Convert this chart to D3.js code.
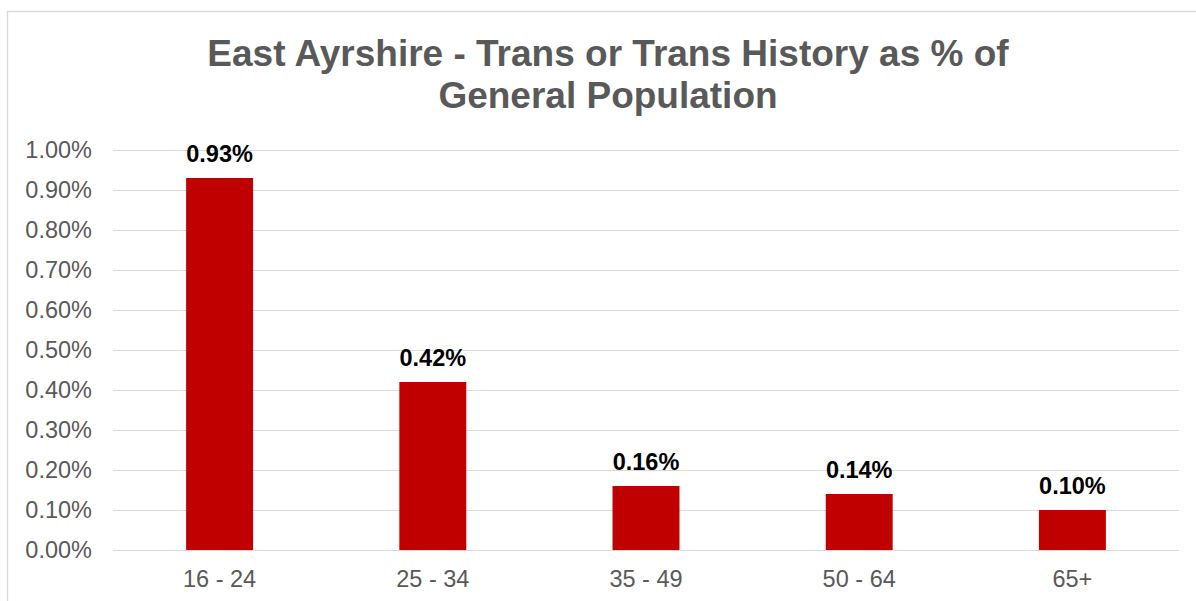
<!DOCTYPE html>
<html>
<head>
<meta charset="utf-8">
<title>East Ayrshire - Trans or Trans History</title>
<script src="https://cdn.jsdelivr.net/npm/d3@7"></script>
<style>
body { margin: 0; background: #fff; }
svg { display: block; font-family: Arial, "Liberation Sans", sans-serif; }
.grid line { stroke: #d9d9d9; stroke-width: 1.3; shape-rendering: crispEdges; }
.tick text { fill: #595959; font-size: 23.5px; }
</style>
</head>
<body>
<script>
// data
var ageGroups = ["16 - 24", "25 - 34", "35 - 49", "50 - 64", "65+"];
var transPct = [0.93, 0.42, 0.16, 0.14, 0.10];
var yTicks = [0, 0.1, 0.2, 0.3, 0.4, 0.5, 0.6, 0.7, 0.8, 0.9, 1.0];
var titleLines = ["East Ayrshire - Trans or Trans History as % of", "General Population"];

var W = 1196, H = 601;
var plot = {left: 113, right: 1179, top: 150, bottom: 550};

var svg = d3.select("body").append("svg")
    .attr("width", W)
    .attr("height", H);

// chart area border (runs off the right and bottom edges)
svg.append("rect")
    .attr("x", 7.5).attr("y", 11.5)
    .attr("width", 1202).attr("height", 620)
    .attr("fill", "#fff")
    .attr("stroke", "#d9d9d9")
    .attr("stroke-width", 1.3);

svg.append("text")
    .attr("text-anchor", "middle")
    .attr("fill", "#595959")
    .style("font-size", "37px")
    .style("font-weight", "bold")
  .selectAll("tspan")
    .data(titleLines)
  .enter().append("tspan")
    .attr("x", 608)
    .attr("y", function(d, i) { return 66 + i * 42; })
    .text(function(d) { return d; });

var x = d3.scaleBand()
    .domain(ageGroups)
    .range([plot.left, plot.right])
    .paddingInner(0.686)
    .paddingOuter(0.343);

var y = d3.scaleLinear()
    .domain([0, 1.0])
    .range([plot.bottom, plot.top]);

// gridlines + y labels
var yAxis = svg.append("g")
    .attr("class", "grid")
    .attr("transform", "translate(" + plot.left + ",0)")
    .call(d3.axisLeft(y)
      .tickValues(yTicks)
      .tickSize(-(plot.right - plot.left))
      .tickPadding(21)
      .tickFormat(function(d) { return d3.format(".2f")(d) + "%"; }));
yAxis.select(".domain").remove();

// x labels
var xAxis = svg.append("g")
    .attr("transform", "translate(0," + plot.bottom + ")")
    .call(d3.axisBottom(x).tickSize(0).tickPadding(20));
xAxis.select(".domain").remove();

var data = ageGroups.map(function(g, i) { return {group: g, value: transPct[i]}; });

svg.selectAll(".bar")
    .data(data)
  .enter().append("rect")
    .attr("class", "bar")
    .attr("x", function(d) { return x(d.group); })
    .attr("width", x.bandwidth())
    .attr("y", function(d) { return y(d.value); })
    .attr("height", function(d) { return plot.bottom - y(d.value); })
    .attr("fill", "#c00000");

svg.selectAll(".val")
    .data(data)
  .enter().append("text")
    .attr("class", "val")
    .attr("x", function(d) { return x(d.group) + x.bandwidth() / 2; })
    .attr("y", function(d) { return y(d.value) - 16; })
    .attr("text-anchor", "middle")
    .attr("fill", "#000")
    .style("font-size", "23.5px")
    .style("font-weight", "bold")
    .text(function(d) { return d3.format(".2f")(d.value) + "%"; });
</script>
</body>
</html>
